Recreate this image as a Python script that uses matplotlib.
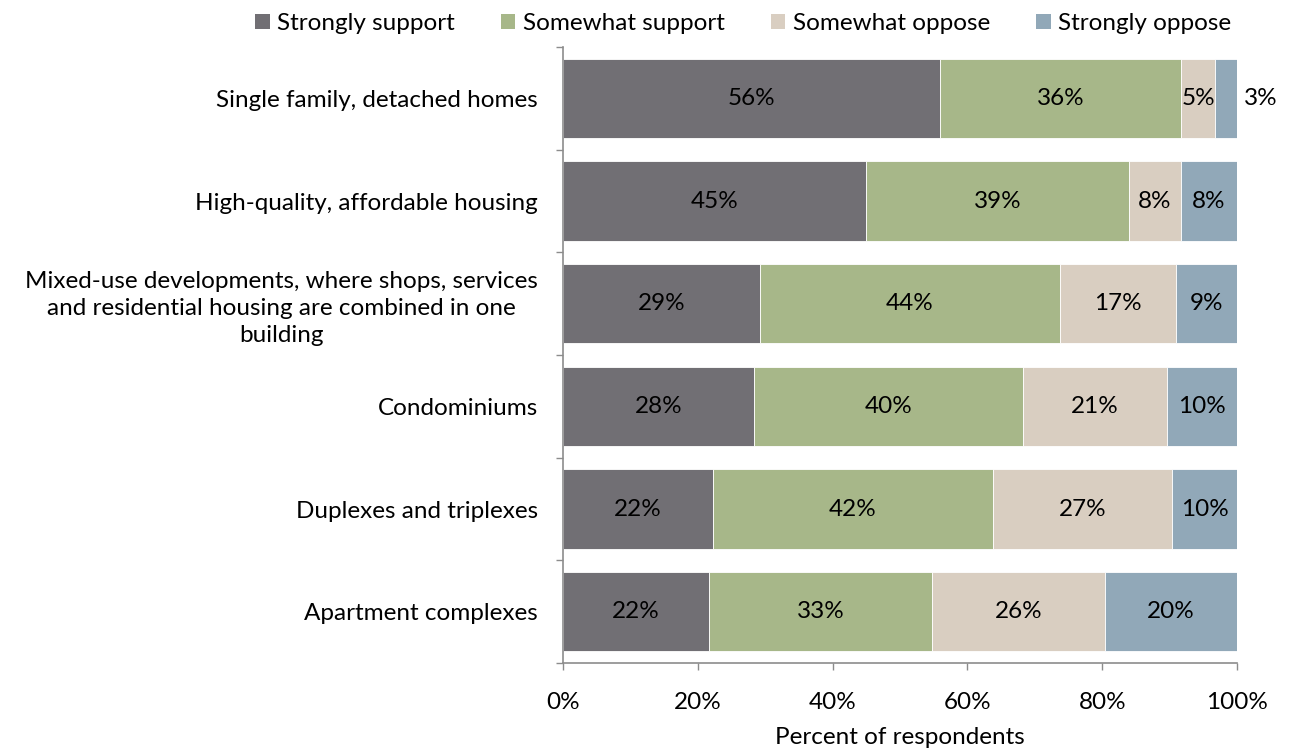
import numpy as np
import matplotlib.pyplot as plt
from matplotlib.patches import Patch

plt.rcParams['font.family'] = ['Lato', 'DejaVu Sans']

# Survey results: support for housing types (% of respondents)
housing_types = [
    "Single family, detached homes",
    "High-quality, affordable housing",
    "Mixed-use developments, where shops, services\nand residential housing are combined in one\nbuilding",
    "Condominiums",
    "Duplexes and triplexes",
    "Apartment complexes",
]
strongly_support = [55.9, 45.0, 29.2, 28.3, 22.2, 21.7]
somewhat_support = [35.8, 39.0, 44.5, 39.9, 41.6, 33.0]
somewhat_oppose = [5.1, 7.7, 17.3, 21.4, 26.6, 25.7]
strongly_oppose = [3.2, 8.3, 9.0, 10.4, 9.6, 19.6]

series_names = ["Strongly support", "Somewhat support", "Somewhat oppose", "Strongly oppose"]
series_colors = ["#716f74", "#a7b789", "#d9cec1", "#91a8b8"]
x_ticks = [0, 20, 40, 60, 80, 100]

series = [strongly_support, somewhat_support, somewhat_oppose, strongly_oppose]
FS = 17.5

fig = plt.figure(figsize=(12.89, 7.54), dpi=100)
ax = fig.add_axes([563 / 1289, 1 - 663 / 754, 674 / 1289, 616 / 754])

y = np.arange(len(housing_types))
left = np.zeros(len(housing_types))
for vals, name, color in zip(series, series_names, series_colors):
    vals = np.array(vals)
    ax.barh(y, vals, left=left, height=0.77, color=color, edgecolor='white',
            linewidth=0.6, label=name)
    for yi, (l, v) in enumerate(zip(left, vals)):
        if v < 4:
            # too narrow for an inside label
            ax.text(l + v + 1.0, yi, f"{v:.0f}%", ha='left', va='center', fontsize=FS, clip_on=False)
        else:
            ax.text(l + v / 2, yi, f"{v:.0f}%", ha='center', va='center', fontsize=FS)
    left += vals

ax.set_xlim(0, 100)
ax.set_ylim(len(housing_types) - 0.5, -0.5)
ax.set_xticks(x_ticks)
ax.set_xticklabels([f"{t}%" for t in x_ticks])
ax.set_yticks(y)
ax.set_yticklabels(housing_types, multialignment='center', linespacing=1.35)
ax.set_yticks(np.arange(len(housing_types) + 1) - 0.5, minor=True)
ax.tick_params(axis='y', which='major', length=0, pad=18, labelsize=FS)
ax.tick_params(axis='y', which='minor', length=5, color='#8c8c8c', width=1)
ax.tick_params(axis='x', length=5, color='#8c8c8c', width=1, pad=16, labelsize=FS)
ax.set_xlabel("Percent of respondents", fontsize=FS, labelpad=10)

for side in ['top', 'right']:
    ax.spines[side].set_visible(False)
for side in ['left', 'bottom']:
    ax.spines[side].set_color('#8c8c8c')
    ax.spines[side].set_linewidth(1.2)

handles = [Patch(facecolor=c, label=n) for n, c in zip(series_names, series_colors)]
fig.legend(handles=handles, loc='upper center', bbox_to_anchor=(743 / 1289, 1.012), ncol=4,
           frameon=False, fontsize=FS, handlelength=0.6, handleheight=0.6,
           handletextpad=0.3, columnspacing=1.9)

fig.savefig("out.png", dpi=100)
